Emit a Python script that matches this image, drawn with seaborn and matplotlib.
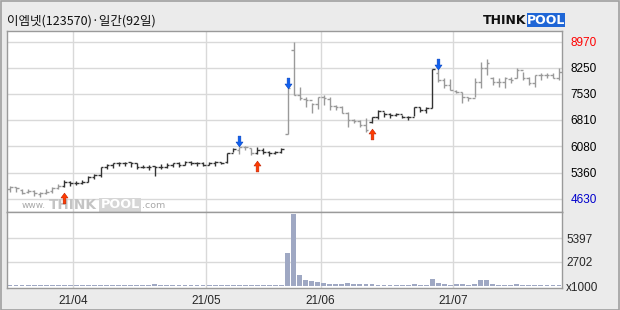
import numpy as np
import pandas as pd
import matplotlib
matplotlib.use("Agg")
import matplotlib.pyplot as plt
import seaborn as sns
from matplotlib.path import Path
from matplotlib.patches import Rectangle

# ---------------- data ----------------
title = "이엠넷(123570)·일간(92일)"
open_ = [4900, 4960, 4890, 4810, 4850, 4760, 4800, 4840, 4920, 4990,
         5100, 5060, 5070, 5110, 5240, 5290, 5520, 5570, 5610, 5630,
         5640, 5610, 5500, 5520, 5530, 5500, 5520, 5570, 5610, 5570,
         5660, 5630, 5610, 5570, 5610, 5650, 5640, 5910, 5990, 6060,
         6030, 5910, 5990, 5940, 5910, 5930, 6423, 8741, 7500, 7400,
         7350, 7250, 7450, 7400, 7200, 7180, 7010, 6810, 6790, 6670,
         6750, 6880, 7060, 6980, 6950, 6970, 6880, 6890, 7170, 7080,
         7140, 8100, 7900, 7780, 7620, 7580, 7440, 7420, 7870, 8240,
         7980, 7860, 7870, 7950, 7960, 8180, 7960, 7820, 8050, 8040,
         8050, 7960]
high = [4989, 4970, 4897, 4897, 4878, 4832, 4897, 4970, 5044, 5154,
        5136, 5136, 5154, 5265, 5320, 5522, 5596, 5632, 5660, 5651,
        5660, 5614, 5568, 5568, 5540, 5596, 5614, 5632, 5660, 5688,
        5688, 5660, 5660, 5660, 5679, 5660, 5908, 6028, 6074, 6092,
        6028, 6074, 6028, 5963, 5963, 6028, 7683, 8970, 7729, 7453,
        7288, 7453, 7499, 7453, 7224, 7196, 7040, 6828, 6810, 6856,
        6900, 7086, 7040, 6994, 7012, 6948, 6920, 7177, 7177, 7177,
        8208, 8208, 7959, 7932, 7637, 7591, 7453, 7959, 8419, 8484,
        8005, 7959, 8005, 8005, 8235, 8143, 8005, 8051, 8116, 8116,
        8097, 8235]
low = [4832, 4832, 4768, 4786, 4713, 4676, 4768, 4786, 4897, 4970,
       4989, 5016, 5044, 5108, 5173, 5246, 5449, 5476, 5540, 5540,
       5504, 5449, 5476, 5430, 5265, 5449, 5476, 5504, 5522, 5568,
       5568, 5540, 5540, 5568, 5540, 5596, 5632, 5936, 5872, 5982,
       5844, 5872, 5872, 5816, 5872, 5890, 6423, 7500, 7362, 7177,
       6994, 7104, 7224, 7086, 7086, 6994, 6607, 6718, 6607, 6488,
       6740, 6828, 6902, 6856, 6920, 6856, 6810, 6920, 7040, 6994,
       7132, 7867, 7683, 7637, 7545, 7270, 7343, 7453, 7683, 8051,
       7775, 7729, 7683, 7821, 7959, 7913, 7775, 7729, 7913, 7959,
       7959, 7913]
close = [4970, 4924, 4805, 4860, 4786, 4805, 4832, 4924, 4989, 5108,
         5081, 5081, 5108, 5246, 5292, 5522, 5568, 5614, 5632, 5632,
         5614, 5504, 5522, 5522, 5504, 5522, 5568, 5614, 5568, 5660,
         5632, 5614, 5568, 5614, 5651, 5632, 5908, 6000, 6056, 6074,
         5908, 5982, 5936, 5908, 5936, 6000, 7683, 7500, 7408, 7362,
         7251, 7453, 7408, 7196, 7177, 7012, 6810, 6791, 6672, 6534,
         6883, 7067, 6976, 6948, 6976, 6883, 6883, 7177, 7086, 7132,
         8208, 7913, 7775, 7637, 7591, 7453, 7408, 7867, 8235, 8373,
         7867, 7867, 7959, 7913, 8189, 7959, 7821, 8051, 8051, 8051,
         7959, 8143]
volume = [120, 110, 100, 110, 120, 100, 110, 100, 120, 130,
          110, 100, 110, 120, 110, 140, 120, 110, 100, 110,
          100, 110, 100, 110, 280, 120, 110, 100, 110, 100,
          110, 100, 110, 100, 110, 100, 140, 130, 120, 110,
          120, 110, 100, 110, 100, 110, 3740, 8090, 1240, 670,
          560, 480, 300, 250, 220, 230, 370, 200, 180, 200,
          190, 130, 120, 110, 120, 110, 120, 200, 130, 140,
          790, 370, 230, 130, 190, 190, 130, 240, 670, 670,
          230, 130, 170, 130, 190, 130, 120, 110, 120, 110,
          120, 110]
buy_signals = [9, 41, 60]
sell_signals = [38, 46, 71]
month_labels = ["21/04", "21/05", "21/06", "21/07"]
month_start_idx = [11, 33, 52, 74]
price_ticks = [8970, 8250, 7530, 6810, 6080, 5360, 4630]
volume_ticks = [0, 2702, 5397]
volume_tick_labels = ["x1000", "2702", "5397"]

# ---------------- style ----------------
sns.set_style("white")
plt.rcParams['font.family'] = ['Liberation Sans', 'Noto Sans CJK KR', 'DejaVu Sans']

W, H = 620, 310
BG = "#ebebeb"
GRID = "#d9d9d9"
SPINE = "#9a9a9a"
DARK = "#333333"
LIGHT = "#9a9a9a"

fig = plt.figure(figsize=(6.2, 3.1), dpi=100, facecolor=BG)


def rect(l, t, r, b):
    return [l / W, 1 - b / H, (r - l) / W, (b - t) / H]


ax = fig.add_axes(rect(7, 31, 562, 212))
axv = fig.add_axes(rect(7, 212, 562, 288))

n = len(close)
idx = np.arange(n)
df = pd.DataFrame({"idx": idx, "open": open_, "high": high, "low": low,
                   "close": close, "volume": volume})

# signal state colouring
state = []
cur = "sell"
for i in idx:
    if i in buy_signals:
        cur = "buy"
    elif i in sell_signals:
        cur = "sell"
    state.append(cur)
df["color"] = [DARK if s == "buy" else LIGHT for s in state]

for a in (ax, axv):
    a.set_facecolor("white")
    for sp in a.spines.values():
        sp.set_color(SPINE)
        sp.set_linewidth(1)
    a.set_xlim(-0.5, n - 0.5)
    for m in month_start_idx:
        a.axvline(m - 0.5, color=GRID, lw=1, zorder=0)

# ---------------- price panel ----------------
ax.set_ylim(4271, 9265)
for t in price_ticks:
    ax.axhline(t, color=GRID, lw=1, zorder=0)

ax.vlines(df["idx"], df["low"], df["high"], colors=df["color"], lw=1.0, zorder=3)
ax.hlines(df["open"], df["idx"] - 0.42, df["idx"], colors=df["color"], lw=1.0, zorder=3)
ax.hlines(df["close"], df["idx"], df["idx"] + 0.42, colors=df["color"], lw=1.0, zorder=3)

up_arrow = Path([(0, 1), (0.65, 0.1), (0.25, 0.1), (0.25, -1), (-0.25, -1),
                 (-0.25, 0.1), (-0.65, 0.1), (0, 1)],
                [Path.MOVETO] + [Path.LINETO] * 6 + [Path.CLOSEPOLY])
down_arrow = Path([(x, -y) for x, y in up_arrow.vertices], up_arrow.codes)

buy_df = df.loc[buy_signals]
sell_df = df.loc[sell_signals]
sns.scatterplot(x=buy_df["idx"], y=buy_df["low"] - 320, marker=up_arrow, s=60,
                color="#ff3b00", edgecolor="#c02000", linewidth=0.4, ax=ax, zorder=6)
sns.scatterplot(x=sell_df["idx"], y=sell_df["high"] + 150, marker=down_arrow, s=60,
                color="#1060f0", edgecolor="#0040c0", linewidth=0.4, ax=ax, zorder=6)

ax.set_xlabel("")
ax.set_ylabel("")
ax.set_xticks([])
ax.yaxis.tick_right()
ax.set_yticks(price_ticks)
ax.set_yticklabels([str(t) for t in price_ticks])
ax.tick_params(axis="y", length=0, pad=6, labelsize=8.5)
for lab, t in zip(ax.get_yticklabels(), price_ticks):
    lab.set_color("#ff0000" if t == max(price_ticks) else
                  ("#0000cc" if t == min(price_ticks) else "black"))

# watermark inside price panel
def axpos(x, y):
    return ((x - 7) / 555, (212 - y) / 181)

ax.text(*axpos(22, 206), "www.", transform=ax.transAxes, fontsize=6.5,
        color="#a8a8a8", va="center", ha="left", zorder=1, family="DejaVu Sans")
ax.text(*axpos(49, 205), "THINK", transform=ax.transAxes, fontsize=9.8,
        fontweight="bold", color="#c4c4c4", va="center", ha="left", zorder=1,
        family="DejaVu Sans")
ax.add_patch(Rectangle(axpos(99, 212), 42 / 555, 14 / 181, transform=ax.transAxes,
                       facecolor="#d6d6d6", edgecolor="none", zorder=1))
ax.text(*axpos(120, 205), "POOL", transform=ax.transAxes, fontsize=9.3,
        fontweight="bold", color="white", va="center", ha="center", zorder=1,
        family="DejaVu Sans")
ax.text(*axpos(142, 206), ".com", transform=ax.transAxes, fontsize=6.8,
        color="#a8a8a8", va="center", ha="left", zorder=1, family="DejaVu Sans")

# ---------------- volume panel ----------------
sns.barplot(data=df, x="idx", y="volume", native_scale=True, color="#9fa8c3",
            saturation=1, width=0.8, errorbar=None, linewidth=0, ax=axv)
axv.set_xlim(-0.5, n - 0.5)
axv.set_ylim(-218, 8317)
for t in volume_ticks[1:]:
    axv.axhline(t, color=GRID, lw=1, zorder=0)
axv.set_xlabel("")
axv.set_ylabel("")
axv.yaxis.tick_right()
axv.set_yticks(volume_ticks)
axv.set_yticklabels(volume_tick_labels)
axv.tick_params(axis="y", length=0, pad=3, labelsize=8.5)
axv.set_xticks([m - 0.5 for m in month_start_idx])
axv.set_xticklabels(month_labels)
axv.tick_params(axis="x", length=0, pad=5, labelsize=8.5)

# ---------------- title & logo ----------------
fig.text(7 / W, 1 - 21 / H, title, fontsize=9, va="center", ha="left",
         family=["Noto Sans CJK KR", "DejaVu Sans"], color="#111111")
fig.text(483 / W, 1 - 20 / H, "THINK", fontsize=9, fontweight="bold",
         color="#111111", va="center", ha="left", family="DejaVu Sans")
fig.patches.append(Rectangle((527 / W, 1 - 27 / H), 38 / W, 14 / H,
                             transform=fig.transFigure, facecolor="#1f66d6",
                             edgecolor="none"))
fig.text(546 / W, 1 - 20 / H, "POOL", fontsize=9, fontweight="bold",
         color="white", va="center", ha="center", family="DejaVu Sans")

fig.patches.append(Rectangle((0.5 / W, 0.5 / H), 1 - 1.5 / W, 1 - 1.5 / H,
                             transform=fig.transFigure, fill=False,
                             edgecolor="#a0a0a0", lw=1.2))

fig.savefig("out.png", dpi=100, facecolor=BG)
